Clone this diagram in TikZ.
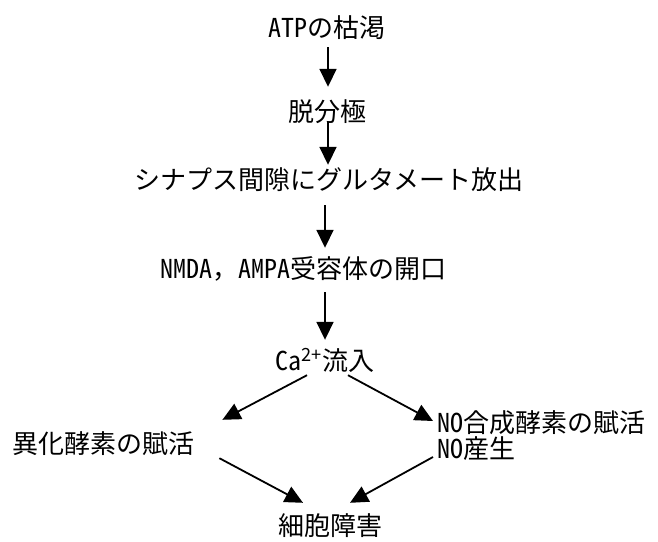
\documentclass[tikz,border=0pt]{standalone}
\usepackage{fontspec}
\setmainfont{Noto Sans CJK JP}
\usetikzlibrary{arrows.meta,calc}
\newcommand{\hw}[1]{{\addfontfeature{RawFeature=+hwid}#1}}
\tikzset{
  lbl/.style={inner sep=0pt, font=\fontsize{26}{28}\selectfont, text height=22.9pt, text depth=3.1pt},
  arr/.style={line width=1.8pt, -{Triangle[length=18pt,width=17pt]}}
}
\begin{document}
\begin{tikzpicture}[x=1pt,y=-1pt]
\useasboundingbox (0,0) rectangle (658,541);
\node[lbl] (atp) at (327,28) {\hw{ATP}の枯渇};
\node[lbl] (dep) at (327,112) {脱分極};
\node[lbl] (glu) at (329,180) {シナプス間隙にグルタメート放出};
\node[lbl] (nmda) at (303,269) {\hw{NMDA}，\hw{AMPA}受容体の開口};
\node[lbl] (ca) at (325,361) {\hw{Ca}\textsuperscript{2+}流入};
\node[lbl,anchor=west] (kat) at (12,444) {異化酵素の賦活};
\node[lbl,anchor=west,align=left,text height=, text depth=] (no) at (437,436) {\hw{NO}合成酵素の賦活\\[-2pt]\hw{NO}産生};
\node[lbl] (cell) at (330,526) {細胞障害};
\draw[arr] ([xshift=1pt,yshift=-6pt]atp.south) -- ([xshift=1pt,yshift=12pt]dep.north);
\draw[arr] ([xshift=1pt,yshift=3pt]dep.south) -- ([xshift=1pt,yshift=2pt]dep.south |- glu.north);
\draw[arr] ([yshift=-12pt]glu.south -| ca.north) -- ([yshift=8pt]nmda.north -| ca.north);
\draw[arr] ([yshift=-10pt]nmda.south -| ca.north) -- ([yshift=8pt]ca.north);
\draw[arr] ([xshift=-18pt,yshift=-1pt]ca.south) -- ([xshift=28pt,yshift=11pt]kat.north east);
\draw[arr] ([xshift=23pt,yshift=-1pt]ca.south) -- ([xshift=-4pt,yshift=15pt]no.west);
\draw[arr] ([xshift=25pt,yshift=-1pt]kat.south east) -- ([xshift=-27pt,yshift=10pt]cell.north);
\draw[arr] ([xshift=-4pt,yshift=-21pt]no.west) -- ([xshift=20pt,yshift=10pt]cell.north);
\end{tikzpicture}
\end{document}
